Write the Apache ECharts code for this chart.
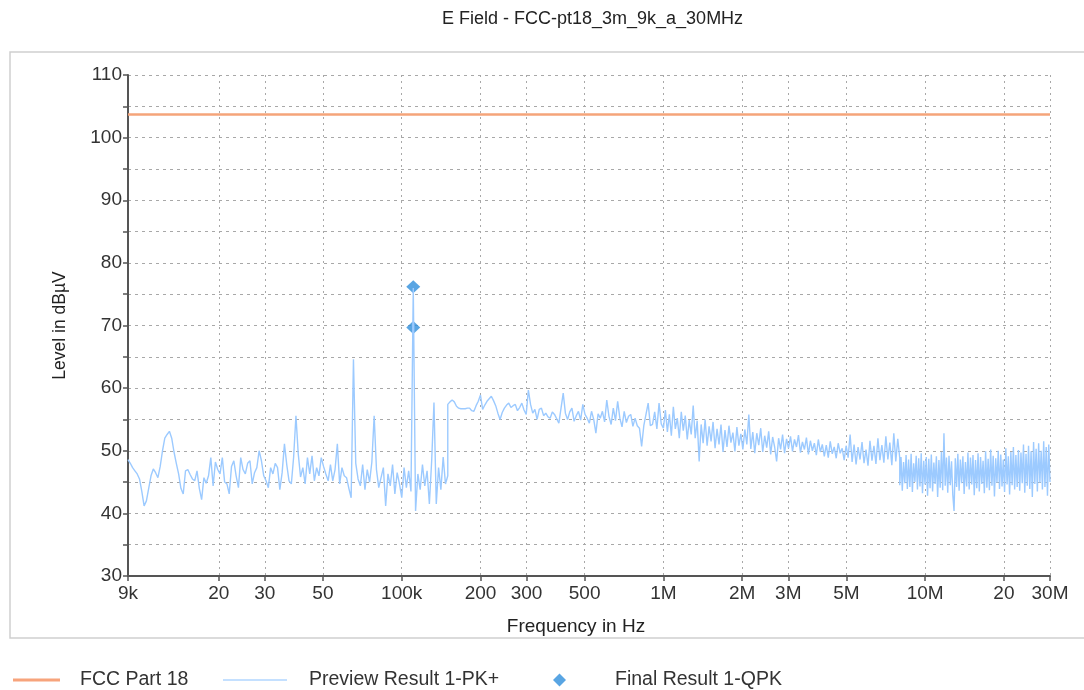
<!DOCTYPE html>
<html>
<head>
<meta charset="utf-8">
<title>E Field - FCC-pt18_3m_9k_a_30MHz</title>
<script src="https://cdn.jsdelivr.net/npm/echarts@6/dist/echarts.min.js"></script>
<style>
  html, body { margin: 0; padding: 0; background: #fff; }
  #chart { width: 1084px; height: 690px; }
</style>
</head>
<body>
<div id="chart"></div>
<script>
// x axis ticks (Hz) and their labels
const xTickValues = [9e3, 2e4, 3e4, 5e4, 1e5, 2e5, 3e5, 5e5, 1e6, 2e6, 3e6, 5e6, 1e7, 2e7, 3e7];
const xTickLabels = ['9k', '20', '30', '50', '100k', '200', '300', '500', '1M', '2M', '3M', '5M', '10M', '20', '30M'];

// limit line
const limitFreqKHz = [9, 30000];
const limitLevel = [103.7, 103.7];

// final QPK results
const qpkFreqKHz = [110.7, 110.7];
const qpkLevel = [76.2, 69.7];

// preview PK+ sweep, split in the receiver's sub-ranges (start/stop kHz, levels in dBuV)
const sweepStartKHz = [9, 150, 1000, 8000];
const sweepStopKHz = [150, 1000, 8000, 30000];

const previewA = [
  48.6, 48.0, 47.3, 46.8, 46.3, 45.5, 43.5, 41.2, 42.0, 44.0,
  46.0, 47.1, 46.5, 45.7, 47.5, 50.0, 52.0, 52.6, 53.1, 52.0,
  49.8, 48.0, 46.3, 44.0, 43.1, 46.8, 47.0, 46.2, 45.5, 45.2,
  46.8, 44.0, 42.2, 45.7, 44.8, 46.0, 48.9, 44.4, 48.2, 47.0,
  46.3, 48.9, 45.0, 44.7, 43.1, 47.5, 48.4, 46.0, 44.1, 48.9,
  47.0, 46.3, 48.0, 48.4, 44.7, 46.5, 47.3, 50.0, 48.4, 46.0,
  45.2, 44.1, 47.3, 46.3, 48.0, 47.3, 43.8, 46.5, 51.1, 47.8,
  45.2, 44.7, 49.0, 55.6, 49.5, 45.8, 47.3, 44.7, 48.9, 46.3,
  49.2, 45.2, 47.3, 46.0, 48.9, 47.5, 46.3, 45.2, 47.8, 45.2,
  47.0, 51.1, 44.7, 47.3, 46.0, 45.7, 44.0, 42.5, 64.6, 48.0,
  45.5, 44.4, 47.8, 43.8, 47.0, 45.0, 48.2, 55.6, 47.0, 44.1,
  45.7, 47.3, 41.2, 46.3, 44.4, 47.8, 43.1, 46.5, 44.7, 42.5,
  47.3, 44.1, 46.8, 43.5, 76.0, 40.4, 46.3, 43.8, 47.8, 44.4,
  46.8, 41.5, 48.4, 57.7, 41.5, 47.3, 43.8, 49.0, 44.7, 46.0
];
const previewB = [
  57.4, 57.8, 58.1, 57.8, 57.1, 56.8, 56.7, 56.7, 56.7, 56.8,
  56.8, 56.4, 56.3, 57.2, 57.9, 58.9, 56.6, 57.3, 57.9, 58.3,
  58.7, 58.0, 57.2, 56.0, 55.0, 56.1, 56.8, 57.3, 57.6, 56.9,
  57.2, 57.4, 56.4, 56.9, 57.6, 56.5, 55.8, 59.7, 57.4, 56.0,
  56.6, 55.0, 56.6, 56.8, 55.6, 56.0, 55.4, 55.2, 56.2, 55.8,
  55.1, 54.4, 56.8, 59.2, 56.0, 55.0, 56.2, 56.8, 54.7, 55.6,
  56.3, 54.9, 57.4, 55.8, 55.2, 54.4, 56.3, 55.0, 52.8, 55.9,
  55.2, 56.3, 54.6, 58.1, 55.5, 54.2, 56.8, 54.8, 57.9, 55.2,
  53.8, 56.3, 54.5, 55.5, 55.8, 53.9, 55.2, 54.0, 53.6, 50.7,
  54.0, 55.8, 57.6, 54.0, 54.2, 56.2, 53.5, 57.6, 54.3, 53.6
];
const previewC = [
  53.6, 56.5, 53.0, 55.8, 52.4, 57.0, 53.5, 55.2, 52.0, 56.2,
  53.2, 55.6, 51.8, 54.9, 52.6, 57.2, 52.0, 54.8, 48.3, 54.2,
  51.2, 55.0, 50.8, 53.9, 51.5, 54.6, 50.4, 53.5, 51.0, 54.2,
  49.8, 53.3, 50.6, 54.0, 51.3, 52.9, 49.9, 53.8, 50.8, 52.7,
  50.2, 53.4, 51.0, 55.8, 50.3, 53.0, 49.6, 52.8, 50.9, 53.6,
  49.8, 52.4, 50.5, 53.1, 49.4, 52.2, 50.6, 48.3, 52.0, 50.2,
  52.6, 49.6, 51.9, 50.4, 52.3, 49.9, 51.8, 50.6, 52.5, 49.7,
  51.4, 50.2, 52.1, 49.4, 51.6, 50.0, 51.2, 49.3, 51.8, 49.8,
  51.0, 49.1, 50.9, 48.9, 51.5, 49.5, 50.6, 48.8, 51.2, 49.6,
  50.4, 48.5, 50.8, 48.9, 52.6, 48.2, 51.0, 47.8, 50.6, 48.6,
  51.4, 48.0, 50.2, 47.6, 51.6, 48.4, 50.8, 47.9, 52.0, 48.5,
  50.9, 48.1, 52.3, 48.6, 51.3, 47.7, 52.8, 48.3, 51.9, 48.8
];
const previewD = [
  44.5, 49.0, 43.6, 48.2, 44.8, 49.3, 43.9, 48.6, 44.2, 49.5,
  43.4, 48.0, 45.0, 49.2, 43.8, 48.8, 44.3, 49.6, 43.2, 48.4,
  44.6, 49.0, 42.8, 48.7, 44.0, 49.4, 43.5, 48.1, 44.7, 49.1,
  42.6, 48.5, 44.1, 49.8, 43.7, 52.8, 44.4, 48.9, 43.3, 49.2,
  44.5, 48.3, 43.0, 40.4, 48.8, 44.2, 49.5, 43.6, 48.6, 44.8,
  49.1, 43.1, 48.2, 44.3, 49.7, 43.8, 48.9, 44.6, 49.3, 42.9,
  48.5, 44.0, 49.6, 43.5, 49.0, 44.7, 48.4, 43.2, 49.9, 44.1,
  48.7, 43.7, 50.2, 44.4, 49.2, 42.7, 48.8, 44.9, 50.0, 43.9,
  49.4, 44.3, 48.6, 43.4, 50.4, 44.6, 49.1, 43.0, 49.8, 44.5,
  50.6, 43.8, 49.3, 44.2, 50.1, 43.6, 49.7, 44.8, 51.0, 43.3,
  49.5, 44.4, 50.8, 43.9, 49.9, 42.6, 51.4, 44.7, 50.3, 43.5,
  51.2, 44.9, 50.0, 43.8, 51.5, 44.2, 50.6, 42.8, 51.0, 45.0
];
const previewSegments = [previewA, previewB, previewC, previewD];

// sweep points are spaced evenly in log frequency inside each sub-range
function sweepPoints(startKHz, stopKHz, levels) {
  const n = levels.length;
  return levels.map(function (lv, i) {
    return [startKHz * 1000 * Math.pow(stopKHz / startKHz, i / (n - 1)), lv];
  });
}

let previewData = [];
previewSegments.forEach(function (levels, k) {
  previewData = previewData.concat(sweepPoints(sweepStartKHz[k], sweepStopKHz[k], levels));
});
const limitData = limitFreqKHz.map(function (f, i) { return [f * 1000, limitLevel[i]]; });
const qpkData = qpkFreqKHz.map(function (f, i) { return [f * 1000, qpkLevel[i]]; });

function xLabel(v) {
  for (let i = 0; i < xTickValues.length; i++) {
    if (Math.abs(v - xTickValues[i]) / xTickValues[i] < 1e-6) return xTickLabels[i];
  }
  return '';
}

const font = 'Liberation Sans, Arial, sans-serif';
const legendText = { fontFamily: font, fontSize: 19.5, color: '#333' };

const myChart = echarts.init(document.getElementById('chart'));
const option = {
  backgroundColor: '#fff',
  animation: false,
  title: {
    text: 'E Field - FCC-pt18_3m_9k_a_30MHz',
    left: 437,
    top: 5,
    textStyle: { fontFamily: font, fontSize: 18, fontWeight: 'normal', color: '#222' }
  },
  graphic: [{
    type: 'rect',
    shape: { x: 10, y: 52, width: 1100, height: 586 },
    style: { fill: 'none', stroke: '#cfcfcf', lineWidth: 1.5 },
    silent: true
  }],
  // one legend block per entry so each sits where the original puts it
  legend: [
    {
      left: 8, top: 665, itemWidth: 47, itemHeight: 3,
      textStyle: Object.assign({ padding: [0, 0, 0, 15] }, legendText),
      data: [{ name: 'FCC Part 18', icon: 'rect', itemStyle: { color: '#f7a47c' } }]
    },
    {
      left: 218, top: 665, itemWidth: 64, itemHeight: 2,
      textStyle: Object.assign({ padding: [0, 0, 0, 17] }, legendText),
      data: [{ name: 'Preview Result 1-PK+', icon: 'rect', itemStyle: { color: '#c4e0ff' } }]
    },
    {
      left: 548, top: 665, itemWidth: 13, itemHeight: 13,
      textStyle: Object.assign({ padding: [0, 0, 0, 44] }, legendText),
      data: [{ name: 'Final Result 1-QPK', icon: 'diamond' }]
    }
  ],
  grid: { left: 128, top: 75, width: 922, height: 501 },
  xAxis: {
    type: 'log',
    logBase: 10,
    min: 9000,
    max: 30e6,
    name: 'Frequency in Hz',
    nameLocation: 'middle',
    nameGap: 41,
    nameTextStyle: { fontFamily: font, fontSize: 19, color: '#222', padding: [0, 26, 0, 0] },
    axisLine: { show: true, lineStyle: { color: '#555', width: 2 } },
    axisTick: { show: true, length: 5, customValues: xTickValues, lineStyle: { color: '#555', width: 1.5 } },
    axisLabel: {
      customValues: xTickValues,
      formatter: xLabel,
      fontFamily: font,
      fontSize: 19,
      color: '#333',
      margin: 8,
      showMinLabel: true,
      showMaxLabel: true,
      hideOverlap: false
    },
    splitLine: { show: true, lineStyle: { color: '#a8a8a8', width: 1, type: [2, 4] } },
    minorTick: { show: false },
    minorSplitLine: { show: false }
  },
  yAxis: {
    type: 'value',
    min: 30,
    max: 110,
    interval: 5,
    name: 'Level in dBµV',
    nameLocation: 'middle',
    nameGap: 59,
    nameTextStyle: { fontFamily: font, fontSize: 17.5, color: '#222' },
    axisLine: { show: true, lineStyle: { color: '#555', width: 2 } },
    axisTick: { show: true, length: 5, lineStyle: { color: '#555', width: 1.5 } },
    axisLabel: {
      fontFamily: font,
      fontSize: 19,
      color: '#333',
      margin: 6,
      formatter: function (v) { return v % 10 === 0 ? String(v) : ''; }
    },
    splitLine: { show: true, lineStyle: { color: '#a8a8a8', width: 1, type: [3, 4] } }
  },
  series: [
    {
      name: 'FCC Part 18',
      type: 'line',
      data: limitData,
      symbol: 'none',
      lineStyle: { color: '#f5a47a', width: 2.5 },
      itemStyle: { color: '#f5a47a' }
    },
    {
      name: 'Preview Result 1-PK+',
      type: 'line',
      data: previewData,
      symbol: 'none',
      lineStyle: { color: '#9ccaff', width: 1.4 },
      itemStyle: { color: '#9ccaff' }
    },
    {
      name: 'Final Result 1-QPK',
      type: 'scatter',
      data: qpkData,
      symbol: 'diamond',
      symbolSize: [14, 13],
      itemStyle: { color: '#2f8fdc' }
    }
  ]
};
myChart.setOption(option);
</script>
</body>
</html>
